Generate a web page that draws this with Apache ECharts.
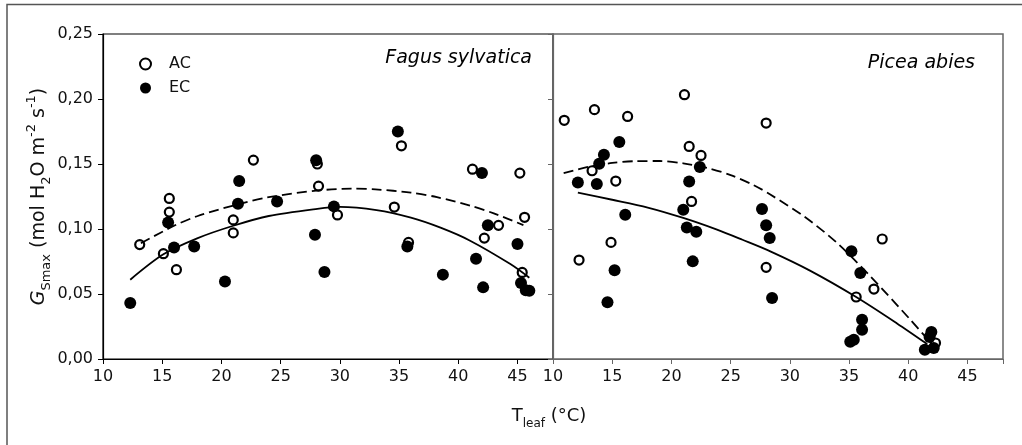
<!DOCTYPE html>
<html lang="en">
<head>
<meta charset="UTF-8">
<title>GSmax vs Tleaf</title>
<style>
  html, body { margin: 0; padding: 0; background: #fff; }
  #chart { width: 1022px; height: 445px; }
</style>
</head>
<body>
<div id="chart"></div>
<script src="https://cdn.jsdelivr.net/npm/echarts@6/dist/echarts.min.js"></script>
<script>
// Fagus sylvatica, ambient CO2 (open circles)
var fagusACx = [13.1, 15.1, 15.6, 15.6, 16.2, 21.0, 21.0, 22.7, 28.1, 28.2, 29.8, 34.6, 35.2, 35.8, 41.2, 42.2, 43.4, 45.2, 45.4, 45.6];
var fagusACy = [0.088, 0.081, 0.113, 0.1235, 0.0687, 0.107, 0.097, 0.153, 0.150, 0.133, 0.1108, 0.1169, 0.164, 0.0897, 0.146, 0.093, 0.1028, 0.143, 0.0666, 0.109];
// Fagus sylvatica, elevated CO2 (filled circles)
var fagusECx = [12.3, 15.5, 16.0, 17.7, 20.3, 21.4, 21.5, 24.7, 27.9, 28.0, 28.7, 29.5, 34.9, 35.7, 38.7, 41.5, 42.0, 42.1, 42.5, 45.0, 45.3, 45.7, 46.0];
var fagusECy = [0.0431, 0.105, 0.0858, 0.0866, 0.0597, 0.1195, 0.137, 0.1212, 0.0956, 0.1528, 0.0669, 0.1174, 0.175, 0.0866, 0.0649, 0.0772, 0.143, 0.0551, 0.1028, 0.0884, 0.0584, 0.0528, 0.0525];
// Picea abies, ambient CO2
var piceaACx = [10.95, 12.2, 13.3, 13.5, 14.9, 15.3, 16.3, 21.1, 21.5, 21.7, 22.5, 28.0, 28.0, 35.6, 37.1, 37.8, 42.3];
var piceaACy = [0.1836, 0.0761, 0.1448, 0.1918, 0.0897, 0.1369, 0.1866, 0.2033, 0.1635, 0.1212, 0.1566, 0.1815, 0.0705, 0.0477, 0.0538, 0.0923, 0.0123];
// Picea abies, elevated CO2
var piceaECx = [12.1, 13.7, 13.9, 14.3, 14.6, 15.2, 15.6, 16.1, 21.0, 21.3, 21.5, 21.8, 22.1, 22.4, 27.65, 28.0, 28.3, 28.5, 35.1, 35.2, 35.4, 35.95, 36.1, 36.1, 41.4, 41.8, 41.95, 42.15];
var piceaECy = [0.1358, 0.1346, 0.1502, 0.1572, 0.0436, 0.0682, 0.1669, 0.111, 0.1148, 0.1012, 0.1366, 0.0751, 0.0979, 0.1477, 0.1154, 0.1028, 0.0931, 0.0469, 0.0133, 0.0828, 0.0148, 0.0661, 0.0302, 0.0225, 0.0072, 0.0169, 0.0208, 0.0085];

// fitted curves
var fagusFitACx = [13.2, 16, 18, 21.4, 24, 28, 31, 33, 36, 38.2, 41, 43, 45.5];
var fagusFitACy = [0.089, 0.1025, 0.110, 0.119, 0.1245, 0.1295, 0.131, 0.1305, 0.128, 0.1245, 0.118, 0.112, 0.103];
var fagusFitECx = [12.3, 15.1, 18, 21, 24, 28.1, 30, 33.1, 36, 38.5, 41, 44.4, 46];
var fagusFitECy = [0.061, 0.0805, 0.093, 0.1025, 0.110, 0.1155, 0.117, 0.1145, 0.1087, 0.101, 0.091, 0.073, 0.0625];
var piceaFitACx = [10.9, 13, 15, 17, 19, 21, 23, 25, 27, 28.35, 31.2, 34, 36.8, 40.2, 41.8];
var piceaFitACy = [0.143, 0.1478, 0.1508, 0.1522, 0.1523, 0.1505, 0.147, 0.1415, 0.1335, 0.1265, 0.1097, 0.0892, 0.0636, 0.030, 0.0135];
var piceaFitECx = [12.1, 15, 18, 21, 23.85, 26, 28.35, 31.7, 35.6, 39.05, 41.6];
var piceaFitECy = [0.128, 0.1225, 0.1165, 0.1085, 0.0995, 0.0917, 0.0828, 0.068, 0.0477, 0.0274, 0.0115];

var xTicks = [10, 15, 20, 25, 30, 35, 40, 45];

function pairs(xs, ys) {
  return xs.map(function (x, i) { return [x, ys[i]]; });
}

var FONT = 'DejaVu Sans';
var chart = echarts.init(document.getElementById('chart'));

function xAxisFor(idx, color) {
  return {
    type: 'value', gridIndex: idx, min: 10, max: 48, interval: 5,
    axisLine: { show: true, lineStyle: { color: color, width: 1.2 } },
    axisTick: { show: true, length: 5, lineStyle: { color: color } },
    axisLabel: {
      margin: 10, fontSize: 16, fontFamily: FONT, color: '#111',
      formatter: function (v) { return xTicks.indexOf(v) >= 0 ? String(v) : ''; }
    },
    splitLine: { show: false }
  };
}

function yAxisFor(idx, color, labels) {
  var ax = {
    type: 'value', gridIndex: idx, min: 0, max: 0.25, interval: 0.05,
    axisLine: { show: true, lineStyle: { color: color, width: 1.2 } },
    axisTick: { show: true, length: 5, lineStyle: { color: color } },
    axisLabel: {
      show: labels, margin: 10, fontSize: 16, fontFamily: FONT, color: '#111',
      formatter: function (v) { return v.toFixed(2).replace('.', ','); }
    },
    splitLine: { show: false }
  };
  if (labels) {
    ax.name = '{gi|G}{sub|Smax}{t| (mol H}{sub|2}{t|O m}{sup|-2}{t| s}{sup|-1}{t|)}';
    ax.nameLocation = 'middle';
    ax.nameGap = 50;
    ax.nameRotate = 90;
    ax.nameTextStyle = {
      fontFamily: FONT, color: '#111',
      rich: {
        t: { fontSize: 19, fontFamily: FONT, lineHeight: 28, color: '#111' },
        gi: { fontSize: 19, fontFamily: FONT, fontStyle: 'italic', lineHeight: 28, color: '#111' },
        sub: { fontSize: 13, fontFamily: FONT, lineHeight: 14, verticalAlign: 'bottom', color: '#111' },
        sup: { fontSize: 13, fontFamily: FONT, lineHeight: 14, verticalAlign: 'top', color: '#111' }
      }
    };
  }
  return ax;
}

function openSeries(name, xi, data) {
  return {
    name: name, type: 'scatter', xAxisIndex: xi, yAxisIndex: xi,
    symbol: 'circle', symbolSize: 9, data: data,
    itemStyle: { color: '#fff', borderColor: '#000', borderWidth: 2.2, opacity: 1 },
    emphasis: { disabled: true }
  };
}

function filledSeries(name, xi, data) {
  return {
    name: name, type: 'scatter', xAxisIndex: xi, yAxisIndex: xi,
    symbol: 'circle', symbolSize: 12, data: data,
    itemStyle: { color: '#000', borderColor: '#000', borderWidth: 0, opacity: 1 },
    emphasis: { disabled: true }
  };
}

function fitSeries(name, xi, data, dashed) {
  return {
    name: name, type: 'line', xAxisIndex: xi, yAxisIndex: xi,
    data: data, smooth: 0.3, showSymbol: false, silent: true,
    lineStyle: { color: '#000', width: 1.8, type: dashed ? [10, 5] : 'solid' }
  };
}

var option = {
  animation: false,
  backgroundColor: '#fff',
  grid: [
    { left: 103, top: 34, width: 450, height: 325, show: true, borderColor: '#000', borderWidth: 1.2, backgroundColor: 'transparent' },
    { left: 553, top: 34, width: 450, height: 325, show: true, borderColor: '#666', borderWidth: 1.5, backgroundColor: 'transparent' }
  ],
  xAxis: [xAxisFor(0, '#000'), xAxisFor(1, '#666')],
  yAxis: [yAxisFor(0, '#000', true), yAxisFor(1, '#666', false)],
  legend: {
    data: ['AC', 'EC'], orient: 'vertical', left: 139, top: 56, padding: 0,
    icon: 'circle', itemWidth: 11, itemHeight: 11, itemGap: 8,
    selectedMode: false,
    textStyle: { fontSize: 16, fontFamily: FONT, color: '#111', padding: [0, 0, 0, 13] }
  },
  graphic: [
    { type: 'rect', silent: true, shape: { x: 7, y: 4.5, width: 1040, height: 470 },
      style: { fill: 'none', stroke: '#555', lineWidth: 1.5 } },
    { type: 'text', silent: true, x: 532, y: 58,
      style: { text: 'Fagus sylvatica', font: 'italic 19px "DejaVu Sans"', fill: '#000', align: 'right', verticalAlign: 'middle' } },
    { type: 'text', silent: true, x: 975, y: 63,
      style: { text: 'Picea abies', font: 'italic 19px "DejaVu Sans"', fill: '#000', align: 'right', verticalAlign: 'middle' } },
    { type: 'text', silent: true, x: 549, y: 416,
      style: {
        text: '{t|T}{sub|leaf}{t| (°C)}', align: 'center', verticalAlign: 'middle',
        rich: {
          t: { fontSize: 18, fontFamily: FONT, lineHeight: 28, fill: '#111' },
          sub: { fontSize: 12, fontFamily: FONT, lineHeight: 14, verticalAlign: 'bottom', fill: '#111' }
        }
      } }
  ],
  series: [
    openSeries('AC', 0, pairs(fagusACx, fagusACy)),
    filledSeries('EC', 0, pairs(fagusECx, fagusECy)),
    openSeries('AC', 1, pairs(piceaACx, piceaACy)),
    filledSeries('EC', 1, pairs(piceaECx, piceaECy)),
    fitSeries('fit AC Fagus', 0, pairs(fagusFitACx, fagusFitACy), true),
    fitSeries('fit EC Fagus', 0, pairs(fagusFitECx, fagusFitECy), false),
    fitSeries('fit AC Picea', 1, pairs(piceaFitACx, piceaFitACy), true),
    fitSeries('fit EC Picea', 1, pairs(piceaFitECx, piceaFitECy), false)
  ]
};

chart.setOption(option);
</script>
</body>
</html>
